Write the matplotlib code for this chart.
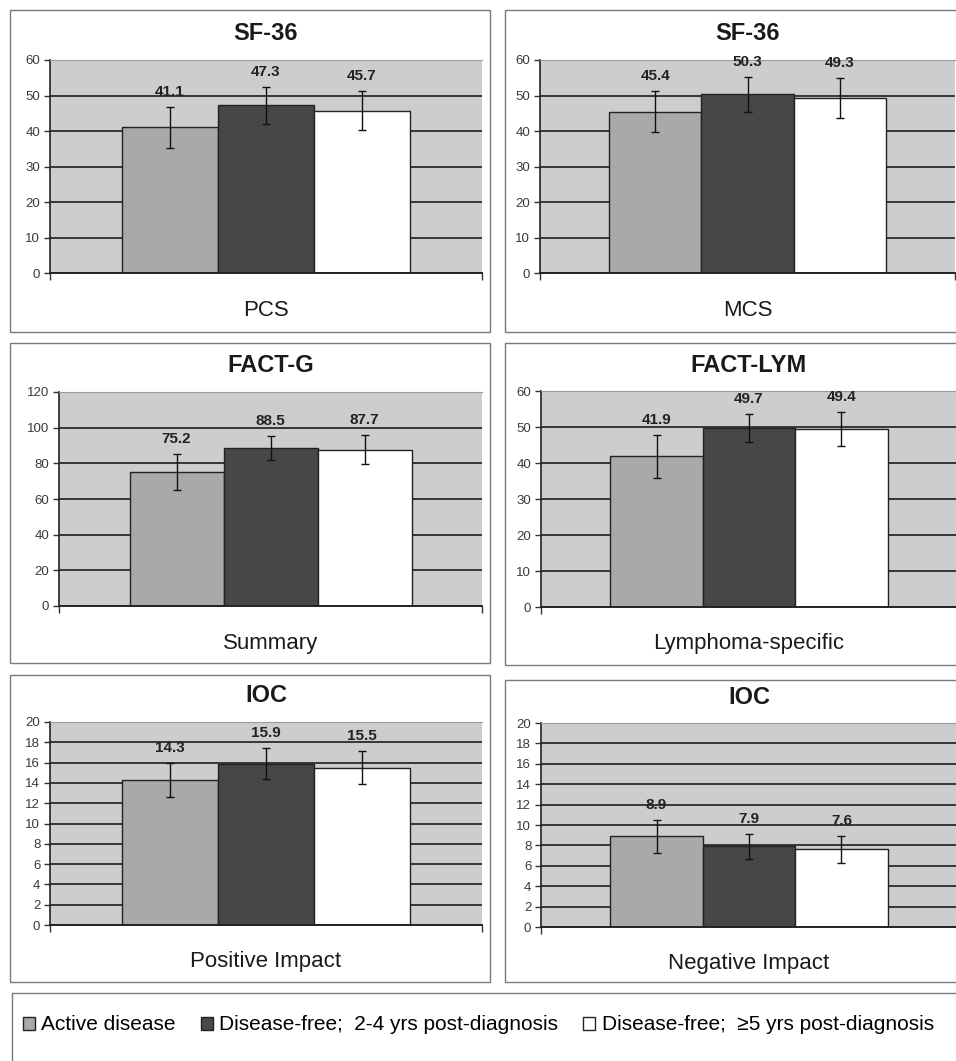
import matplotlib
matplotlib.use('Agg')
import matplotlib.pyplot as plt
from matplotlib.patches import Rectangle, Patch

plt.rcParams['font.family'] = ['Liberation Sans', 'DejaVu Sans']

# chart data
titles = ['SF-36', 'SF-36', 'FACT-G', 'FACT-LYM', 'IOC', 'IOC']
subscales = ['PCS', 'MCS', 'Summary', 'Lymphoma-specific', 'Positive Impact', 'Negative Impact']
groups = ['Active disease', 'Disease-free;  2-4 yrs post-diagnosis', 'Disease-free;  \u22655 yrs post-diagnosis']
active = [41.1, 45.4, 75.2, 41.9, 14.3, 8.9]
free_2_4 = [47.3, 50.3, 88.5, 49.7, 15.9, 7.9]
free_5 = [45.7, 49.3, 87.7, 49.4, 15.5, 7.6]
active_err = [5.8, 5.8, 10.0, 6.0, 1.7, 1.6]
free_2_4_err = [5.2, 5.0, 6.7, 3.8, 1.5, 1.2]
free_5_err = [5.5, 5.5, 8.0, 4.8, 1.6, 1.3]
y_max = [60, 60, 120, 60, 20, 20]
y_step = [10, 10, 20, 10, 2, 2]

# layout in pixels: (left, top, right, bottom)
W, H = 956, 1061
axes_px = [(50, 60, 482, 273), (540, 60, 955, 273),
           (59, 392, 482, 606), (541, 391, 957, 607),
           (50, 722, 482, 925), (541, 723, 957, 927)]
frames_px = [(10, 10, 490, 332), (505, 10, 975, 332),
             (10, 343, 490, 663), (505, 343, 975, 665),
             (10, 675, 490, 982), (505, 680, 975, 982),
             (12, 993, 975, 1070)]

bar_colors = ['#a9a9a9', '#474747', '#ffffff']
plot_bg = '#cdcdcd'


def rect(box):
    l, t, r, b = box
    return [l / W, 1 - b / H, (r - l) / W, (b - t) / H]


fig = plt.figure(figsize=(W / 100, H / 100), dpi=100)
fig.patch.set_facecolor('white')

# panel frames
for l, t, r, b in frames_px:
    fig.add_artist(Rectangle((l / W, 1 - b / H), (r - l) / W, (b - t) / H,
                             transform=fig.transFigure, fill=False,
                             edgecolor='#7a7a7a', linewidth=1.0))

width = 2 / 9
offsets = [-width, 0, width]

for i in range(6):
    ax = fig.add_axes(rect(axes_px[i]))
    ax.set_facecolor(plot_bg)
    vals = [active[i], free_2_4[i], free_5[i]]
    errs = [active_err[i], free_2_4_err[i], free_5_err[i]]

    # grid lines behind bars
    for y in range(y_step[i], y_max[i], y_step[i]):
        ax.axhline(y, color='#2b2b2b', linewidth=1.3, zorder=1)

    ax.bar(offsets, vals, width=width, color=bar_colors,
           edgecolor='#222222', linewidth=1.0, zorder=2)
    ax.errorbar(offsets, vals, yerr=errs, fmt='none', ecolor='#111111',
                elinewidth=1.0, capsize=3, capthick=1.0, zorder=3)

    for x, v, e in zip(offsets, vals, errs):
        ax.annotate(f'{v:.1f}', xy=(x, v + e), xytext=(0, 15),
                    textcoords='offset pixels', ha='center', va='center',
                    fontsize=11, fontweight='bold', color='#222222', zorder=4)

    ax.set_xlim(-0.5, 0.5)
    ax.set_ylim(0, y_max[i])
    ax.set_yticks(range(0, y_max[i] + 1, y_step[i]))
    ax.tick_params(axis='y', direction='out', length=4, width=1,
                   color='#333333', labelsize=9.5, labelcolor='#3a3a3a', pad=3)
    ax.set_xticks([-0.5, 0.5])
    ax.set_xticklabels([])
    ax.tick_params(axis='x', direction='out', length=5, width=1, color='#333333')

    ax.spines['left'].set_color('#222222')
    ax.spines['left'].set_linewidth(1.2)
    ax.spines['bottom'].set_color('#222222')
    ax.spines['bottom'].set_linewidth(1.4)
    ax.spines['bottom'].set_zorder(5)
    ax.spines['top'].set_color('#9a9a9a')
    ax.spines['top'].set_linewidth(0.8)
    ax.spines['right'].set_visible(False)

    ax.annotate(titles[i], xy=(0.5, 1), xycoords='axes fraction',
                xytext=(0, 26), textcoords='offset pixels', ha='center',
                va='center', fontsize=17, fontweight='bold', color='#1a1a1a')
    ax.annotate(subscales[i], xy=(0.5, 0), xycoords='axes fraction',
                xytext=(0, -37), textcoords='offset pixels', ha='center',
                va='center', fontsize=16, color='#1a1a1a')

# legend across the bottom
handles = [Patch(facecolor=c, edgecolor='#222222', linewidth=1.0) for c in bar_colors]
fig.legend(handles, groups, loc='center left',
           bbox_to_anchor=(23 / W, 1 - 1025 / H), ncol=3, frameon=False,
           handlelength=0.58, handleheight=0.58, handletextpad=0.3,
           columnspacing=1.2, borderpad=0, borderaxespad=0,
           prop={'size': 15})

fig.savefig('out.png', dpi=100)
